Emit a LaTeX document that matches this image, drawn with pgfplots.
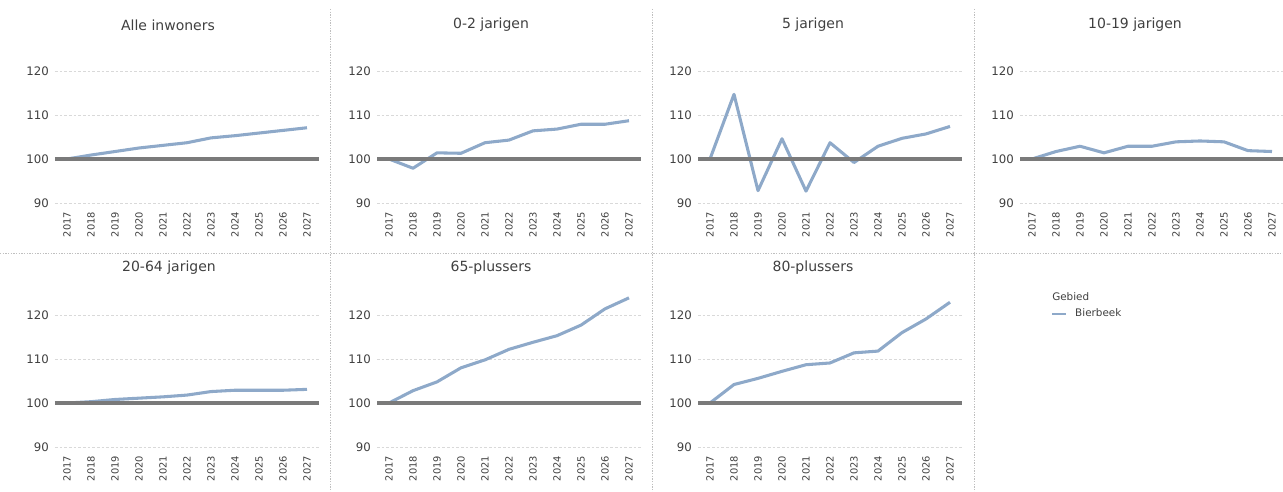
\documentclass[border=0pt]{standalone}
\usepackage{fontspec}
\setmainfont{DejaVu Sans}
\usepackage{pgfplots}
\pgfplotsset{compat=1.18}
\definecolor{ser}{HTML}{8EA9C9}
\definecolor{basec}{HTML}{7A7A7A}
\definecolor{gridc}{HTML}{D9D9D9}
\definecolor{txt}{HTML}{404040}
\definecolor{sepc}{HTML}{BFBFBF}
\pgfplotsset{
 panel/.style={
  scale only axis, width=198pt, height=115.5pt,
  xmin=2016.5, xmax=2027.5, ymin=90, ymax=125,
  axis line style={draw=none},
  major tick length=0pt,
  xtick={2017,...,2027}, ytick={90,100,110,120},
  ymajorgrids,
  major grid style={draw=gridc, line width=0.5pt, dash pattern=on 2pt off 1.5pt},
  /pgf/number format/1000 sep={},
  /pgf/number format/assume math mode=true,
  x tick label style={font=\fontsize{7.4}{8}\selectfont, text=txt, inner sep=0pt, yshift=-6.5pt, rotate=90, anchor=east},
  y tick label style={font=\fontsize{8.8}{10}\selectfont, text=txt, inner sep=0pt, xshift=-4.5pt, anchor=east},
  clip=false,
 },
 dat/.style={ser, line width=2.3pt, line join=round},
 base/.style={basec, line width=2.3pt},
}
\begin{document}
\begin{tikzpicture}
\useasboundingbox (0,0) rectangle ({1283*0.75pt},{-492*0.75pt});
% separators
\draw[sepc, line width=0.6pt, dash pattern=on 1pt off 1pt] ({330*0.75pt},{-9*0.75pt}) -- ({330*0.75pt},{-492*0.75pt});
\draw[sepc, line width=0.6pt, dash pattern=on 1pt off 1pt] ({652*0.75pt},{-9*0.75pt}) -- ({652*0.75pt},{-492*0.75pt});
\draw[sepc, line width=0.6pt, dash pattern=on 1pt off 1pt] ({974*0.75pt},{-9*0.75pt}) -- ({974*0.75pt},{-492*0.75pt});
\draw[sepc, line width=0.6pt, dash pattern=on 1pt off 1pt] (0,{-253*0.75pt}) -- ({1283*0.75pt},{-253*0.75pt});
% titles
\tikzset{ttl/.style={font=\fontsize{10.5}{12}\selectfont, text=txt, inner sep=0pt}}
\node[ttl] at ({168*0.75pt},{-25*0.75pt}) {Alle inwoners};
\node[ttl] at ({491*0.75pt},{-25*0.75pt}) {0-2 jarigen};
\node[ttl] at ({813*0.75pt},{-25*0.75pt}) {5 jarigen};
\node[ttl] at ({1135*0.75pt},{-25*0.75pt}) {10-19 jarigen};
\node[ttl] at ({169*0.75pt},{-268*0.75pt}) {20-64 jarigen};
\node[ttl] at ({491*0.75pt},{-268*0.75pt}) {65-plussers};
\node[ttl] at ({813*0.75pt},{-268*0.75pt}) {80-plussers};
\node[font=\fontsize{7.8}{9}\selectfont, text=txt, inner sep=0pt, anchor=west] at ({1052*0.75pt},{-297*0.75pt}) {Gebied};

% Panel 1
\begin{axis}[panel, at={({55*0.75pt},{-203*0.75pt})}, anchor=south west]
\addplot[dat] coordinates {(2017,100) (2018,100.9) (2019,101.7) (2020,102.5) (2021,103.1) (2022,103.7) (2023,104.8) (2024,105.3) (2025,105.9) (2026,106.5) (2027,107.1)};
\addplot[base] coordinates {(2016.5,100) (2027.5,100)};
\end{axis}
% Panel 2
\begin{axis}[panel, at={({377*0.75pt},{-203*0.75pt})}, anchor=south west]
\addplot[dat] coordinates {(2017,100) (2018,97.9) (2019,101.4) (2020,101.3) (2021,103.7) (2022,104.3) (2023,106.4) (2024,106.8) (2025,107.9) (2026,107.9) (2027,108.7)};
\addplot[base] coordinates {(2016.5,100) (2027.5,100)};
\end{axis}
% Panel 3
\begin{axis}[panel, at={({698*0.75pt},{-203*0.75pt})}, anchor=south west]
\addplot[dat] coordinates {(2017,100) (2018,114.7) (2019,92.8) (2020,104.6) (2021,92.7) (2022,103.7) (2023,99.2) (2024,102.9) (2025,104.7) (2026,105.7) (2027,107.4)};
\addplot[base] coordinates {(2016.5,100) (2027.5,100)};
\end{axis}
% Panel 4
\begin{axis}[panel, at={({1020*0.75pt},{-203*0.75pt})}, anchor=south west]
\addplot[dat] coordinates {(2017,100) (2018,101.7) (2019,102.9) (2020,101.4) (2021,102.9) (2022,102.9) (2023,103.9) (2024,104.1) (2025,103.9) (2026,101.9) (2027,101.7)};
\addplot[base] coordinates {(2016.5,100) (2027.5,100)};
\end{axis}
% Panel 5
\begin{axis}[panel, at={({55*0.75pt},{-447*0.75pt})}, anchor=south west]
\addplot[dat] coordinates {(2017,100) (2018,100.3) (2019,100.8) (2020,101.1) (2021,101.4) (2022,101.8) (2023,102.6) (2024,102.9) (2025,102.9) (2026,102.9) (2027,103.1)};
\addplot[base] coordinates {(2016.5,100) (2027.5,100)};
\end{axis}
% Panel 6
\begin{axis}[panel, at={({377*0.75pt},{-447*0.75pt})}, anchor=south west]
\addplot[dat] coordinates {(2017,100) (2018,102.8) (2019,104.8) (2020,108.0) (2021,109.8) (2022,112.2) (2023,113.8) (2024,115.3) (2025,117.7) (2026,121.4) (2027,123.9)};
\addplot[base] coordinates {(2016.5,100) (2027.5,100)};
\end{axis}
% Panel 7
\begin{axis}[panel, at={({698*0.75pt},{-447*0.75pt})}, anchor=south west,
  legend style={at={(axis description cs:1.337,0.864)}, anchor=west, draw=none, fill=none, inner sep=0pt,
    font=\fontsize{7.8}{9}\selectfont, text=txt,
    nodes={inner sep=0pt}, /tikz/every odd column/.append style={column sep=6pt}},
  legend image code/.code={\draw[#1, line width=1.5pt] (0pt,0pt) -- (10.5pt,0pt);}]
\addplot[dat] coordinates {(2017,100) (2018,104.2) (2019,105.6) (2020,107.2) (2021,108.7) (2022,109.1) (2023,111.4) (2024,111.8) (2025,116.0) (2026,119.1) (2027,122.9)};
\addlegendentry{Bierbeek}
\addplot[base, forget plot] coordinates {(2016.5,100) (2027.5,100)};
\end{axis}
\end{tikzpicture}
\end{document}
